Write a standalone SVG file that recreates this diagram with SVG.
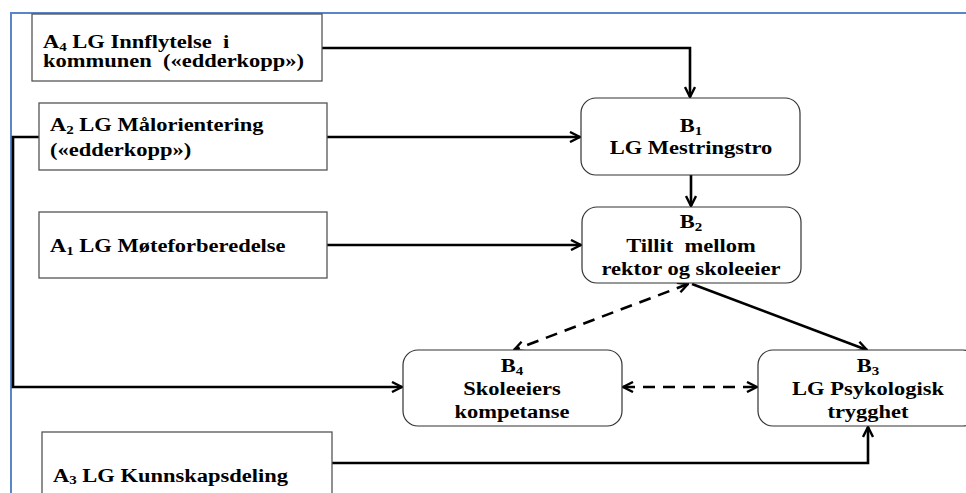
<svg xmlns="http://www.w3.org/2000/svg" width="966" height="493" viewBox="0 0 966 493">
<style>
text{font-family:"Liberation Serif","Times New Roman",serif;font-weight:bold;font-size:18px;fill:#000;white-space:pre}
.c{text-anchor:middle}
.sub{font-size:12px}
.box{fill:#fff;stroke:#555;stroke-width:1.3}
.rbox{fill:#fff;stroke:#333;stroke-width:1.2}
.ln{fill:none;stroke:#000;stroke-width:2.6}
.dash{stroke-dasharray:12 8}
.frame{stroke:#5b85c9;stroke-width:2;fill:none}
</style>
<defs>
<marker id="ah" viewBox="0 0 12 12" refX="11" refY="6" markerWidth="12" markerHeight="12" markerUnits="userSpaceOnUse" orient="auto-start-reverse">
<path d="M1,1 L11,6 L1,11" fill="none" stroke="#000" stroke-width="2.4"/>
</marker>
</defs>
<rect width="966" height="493" fill="#fff"/>
<path class="frame" d="M11,493 V13 H966"/>
<g id="connectors">
<path class="ln" d="M322,48 H690 V97" marker-end="url(#ah)"/>
<path class="ln" d="M327,137 H580" marker-end="url(#ah)"/>
<path class="ln" d="M327,245 H581" marker-end="url(#ah)"/>
<path class="ln" d="M691,175 V206" marker-end="url(#ah)"/>
<path class="ln" d="M39,137 H13 V387 H402" marker-end="url(#ah)"/>
<path class="ln dash" d="M688,284 L514,350" marker-start="url(#ah)" marker-end="url(#ah)"/>
<path class="ln" d="M692,284 L867,350" marker-end="url(#ah)"/>
<path class="ln dash" d="M623,387 H757" marker-start="url(#ah)" marker-end="url(#ah)"/>
<path class="ln" d="M332,463 H868 V427" marker-end="url(#ah)"/>
</g>
<g id="A4">
<rect class="box" x="32" y="14" width="290" height="67"/>
<text transform="scale(1.25 1)" x="34.4" y="48">A<tspan class="sub" dy="3">4</tspan><tspan dy="-3"> LG Innflytelse  i</tspan></text>
<text transform="scale(1.25 1)" x="34.4" y="67">kommunen  («edderkopp»)</text>
</g>
<g id="A2">
<rect class="box" x="39" y="103" width="288" height="67"/>
<text transform="scale(1.25 1)" x="40" y="131">A<tspan class="sub" dy="3">2</tspan><tspan dy="-3"> LG Målorientering</tspan></text>
<text transform="scale(1.25 1)" x="40" y="156">(«edderkopp»)</text>
</g>
<g id="A1">
<rect class="box" x="39" y="212" width="288" height="66"/>
<text transform="scale(1.25 1)" x="40" y="252">A<tspan class="sub" dy="3">1</tspan><tspan dy="-3"> LG Møteforberedelse</tspan></text>
</g>
<g id="A3">
<rect class="box" x="42" y="432" width="290" height="70"/>
<text transform="scale(1.25 1)" x="42.4" y="482">A<tspan class="sub" dy="2">3</tspan><tspan dy="-2"> LG Kunnskapsdeling</tspan></text>
</g>
<g id="B1">
<rect class="rbox" x="581" y="98" width="219" height="77" rx="15"/>
<text class="c" transform="scale(1.25 1)" x="552.8" y="132">B<tspan class="sub" dy="3">1</tspan></text>
<text class="c" transform="scale(1.25 1)" x="552.8" y="154">LG Mestringstro</text>
</g>
<g id="B2">
<rect class="rbox" x="582" y="207" width="219" height="76" rx="15"/>
<text class="c" transform="scale(1.25 1)" x="552.8" y="228">B<tspan class="sub" dy="3">2</tspan></text>
<text class="c" transform="scale(1.25 1)" x="552.8" y="252">Tillit  mellom</text>
<text class="c" transform="scale(1.25 1)" x="552.8" y="275">rektor og skoleeier</text>
</g>
<g id="B4">
<rect class="rbox" x="403" y="350" width="219" height="76" rx="15"/>
<text class="c" transform="scale(1.25 1)" x="409.6" y="372">B<tspan class="sub" dy="3">4</tspan></text>
<text class="c" transform="scale(1.25 1)" x="409.6" y="395">Skoleeiers</text>
<text class="c" transform="scale(1.25 1)" x="409.6" y="418">kompetanse</text>
</g>
<g id="B3">
<rect class="rbox" x="758" y="350" width="220" height="76" rx="15"/>
<text class="c" transform="scale(1.25 1)" x="694.4" y="372">B<tspan class="sub" dy="3">3</tspan></text>
<text class="c" transform="scale(1.25 1)" x="694.4" y="395">LG Psykologisk</text>
<text class="c" transform="scale(1.25 1)" x="694.4" y="418">trygghet</text>
</g>
</svg>
